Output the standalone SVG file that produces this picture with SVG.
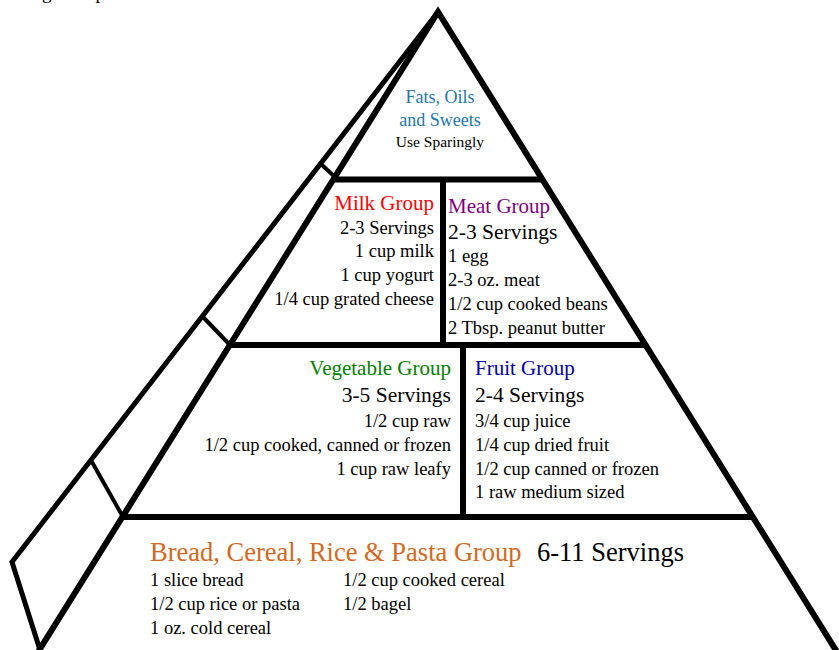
<svg xmlns="http://www.w3.org/2000/svg" width="839" height="650" viewBox="0 0 839 650">
<style>
text{font-family:"Liberation Serif","Times New Roman",serif;fill:#000}
.it{font-size:18.5px}
.hd{font-size:21px}
.sv{font-size:21.5px}
.r{text-anchor:end}
.c{text-anchor:middle}
.ln{fill:none;stroke:#000;stroke-linejoin:miter;stroke-linecap:butt}
.main{stroke-width:6}
.band{stroke-width:5}
.tick{stroke-width:4}
</style>
<rect width="839" height="650" fill="#fff"/>
<text x="42" y="-1" style="font-size:19px">g<tspan x="86">up</tspan></text>
<g id="connectors">
<path class="ln band" d="M438,12 L12,562 L40,650"/>
<path class="ln tick" d="M322,165 L336,178"/>
<path class="ln tick" d="M203,317 L230,345"/>
<path class="ln tick" d="M92,462 L123,517"/>
<path class="ln main" d="M38,652 L438,12 L837,652"/>
<path class="ln main" d="M335,179.5 H543"/>
<path class="ln main" d="M443,179.5 V345"/>
<path class="ln main" d="M230,345 H646"/>
<path class="ln main" d="M463,345 V517"/>
<path class="ln main" d="M122,517 H753"/>
</g>
<g id="fats">
<text class="c" x="440" y="103" style="font-size:18px;fill:#2277aa">Fats, Oils</text>
<text class="c" x="440" y="126" style="font-size:18px;fill:#2277aa">and Sweets</text>
<text class="c" x="440" y="147" style="font-size:15.5px">Use Sparingly</text>
</g>
<g id="milk">
<text class="hd r" x="434" y="210" style="fill:#ff0000">Milk Group</text>
<text class="it r" x="434" y="234">2-3 Servings</text>
<text class="it r" x="434" y="257">1 cup milk</text>
<text class="it r" x="434" y="281">1 cup yogurt</text>
<text class="it r" x="434" y="305">1/4 cup grated cheese</text>
</g>
<g id="meat">
<text class="hd" x="448" y="212.5" style="fill:#800080">Meat Group</text>
<text class="sv" x="448" y="238.5">2-3 Servings</text>
<text class="it" x="448" y="262">1 egg</text>
<text class="it" x="448" y="286">2-3 oz. meat</text>
<text class="it" x="448" y="310">1/2 cup cooked beans</text>
<text class="it" x="448" y="334">2 Tbsp. peanut butter</text>
</g>
<g id="vegetable">
<text class="hd r" x="451" y="374.5" style="fill:#008000">Vegetable Group</text>
<text class="sv r" x="451" y="401.5">3-5 Servings</text>
<text class="it r" x="451" y="426.5">1/2 cup raw</text>
<text class="it r" x="451" y="450.5">1/2 cup cooked, canned or frozen</text>
<text class="it r" x="451" y="474.5">1 cup raw leafy</text>
</g>
<g id="fruit">
<text class="hd" x="475" y="374.5" style="fill:#0000aa">Fruit Group</text>
<text class="sv" x="475" y="401.5">2-4 Servings</text>
<text class="it" x="475" y="426.5">3/4 cup juice</text>
<text class="it" x="475" y="450.5">1/4 cup dried fruit</text>
<text class="it" x="475" y="474.5">1/2 cup canned or frozen</text>
<text class="it" x="475" y="498">1 raw medium sized</text>
</g>
<g id="bread">
<text x="150" y="561" style="font-size:26.5px;fill:#d2691e">Bread, Cereal, Rice &amp; Pasta Group</text>
<text x="537" y="561" style="font-size:26.5px">6-11 Servings</text>
<text class="it" x="150" y="586">1 slice bread</text>
<text class="it" x="150" y="610">1/2 cup rice or pasta</text>
<text class="it" x="150" y="634">1 oz. cold cereal</text>
<text class="it" x="343" y="586">1/2 cup cooked cereal</text>
<text class="it" x="343" y="610">1/2 bagel</text>
</g>
</svg>
